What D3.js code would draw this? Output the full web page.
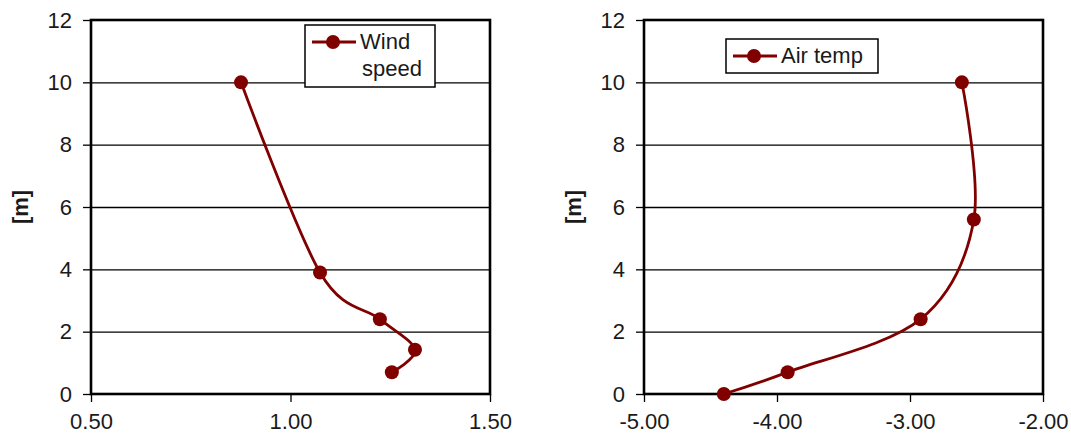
<!DOCTYPE html>
<html>
<head>
<meta charset="utf-8">
<script src="https://cdn.jsdelivr.net/npm/d3@7"></script>
<style>
  body { margin: 0; background: #fff; }
  svg text { font-family: "Liberation Sans", Arial, sans-serif; fill: #1a1a1a; }
</style>
</head>
<body>
<div id="chart"></div>
<script>
// heights [m]
const yTicks = [0, 2, 4, 6, 8, 10, 12];

const windHeights = [10, 3.9, 2.4, 1.42, 0.7];
const windSpeed = [0.876, 1.074, 1.224, 1.312, 1.254];
const windTicks = [0.5, 1.0, 1.5];

const tempHeights = [10, 5.6, 2.4, 0.7, 0];
const airTemp = [-2.61, -2.52, -2.92, -3.92, -4.40];
const tempTicks = [-5, -4, -3, -2];

const lineColor = "#800000";
const fontSize = "22px";

const svg = d3.select("#chart").append("svg")
    .attr("width", 1071)
    .attr("height", 440);

function drawPanel(opts) {
    const x = d3.scaleLinear().domain(opts.xDomain).range([opts.left, opts.right]);
    const y = d3.scaleLinear().domain([0, 12]).range([394, 20]);
    const g = svg.append("g");

    // grid lines
    g.append("g")
        .attr("transform", `translate(${opts.left},0)`)
        .call(d3.axisLeft(y).tickValues(yTicks.slice(1, -1)).tickSize(-(opts.right - opts.left)).tickFormat(""))
        .call(s => s.select(".domain").remove())
        .call(s => s.selectAll("line").attr("stroke", "#000").attr("stroke-width", 1.3));

    // frame
    g.append("rect")
        .attr("x", opts.left).attr("y", y(12))
        .attr("width", opts.right - opts.left).attr("height", y(0) - y(12))
        .attr("fill", "none").attr("stroke", "#000").attr("stroke-width", 2.6);

    // y axis
    const ya = g.append("g")
        .attr("transform", `translate(${opts.left},0)`)
        .call(d3.axisLeft(y).tickValues(yTicks).tickSize(8).tickPadding(11).tickFormat(d3.format("d")));
    ya.select(".domain").remove();
    ya.selectAll("line").attr("stroke", "#000").attr("stroke-width", 1.3);
    ya.selectAll("text").style("font-size", fontSize).attr("fill", "#1a1a1a");

    // x axis
    const xa = g.append("g")
        .attr("transform", `translate(0,${y(0)})`)
        .call(d3.axisBottom(x).tickValues(opts.xTicks).tickSize(8).tickPadding(11).tickFormat(d => d.toFixed(2)));
    xa.select(".domain").remove();
    xa.selectAll("line").attr("stroke", "#000").attr("stroke-width", 1.3);
    xa.selectAll("text").style("font-size", fontSize).attr("fill", "#1a1a1a");

    // axis title
    g.append("text")
        .attr("transform", `translate(${opts.titleX},207) rotate(-90)`)
        .attr("text-anchor", "middle")
        .attr("dominant-baseline", "middle")
        .style("font-size", fontSize)
        .style("font-weight", "bold")
        .text("[m]");

    const pts = opts.xs.map((v, i) => [v, opts.ys[i]]);
    const line = d3.line()
        .x(d => x(d[0]))
        .y(d => y(d[1]))
        .curve(d3.curveCardinal.tension(0));

    g.append("path")
        .attr("d", line(pts))
        .attr("fill", "none")
        .attr("stroke", lineColor)
        .attr("stroke-width", 2.8);

    g.selectAll("circle.pt").data(pts).enter().append("circle")
        .attr("class", "pt")
        .attr("cx", d => x(d[0]))
        .attr("cy", d => y(d[1]))
        .attr("r", 7)
        .attr("fill", lineColor);

    // legend
    const lg = opts.legend;
    g.append("rect")
        .attr("x", lg.x).attr("y", lg.y).attr("width", lg.w).attr("height", lg.h)
        .attr("fill", "#fff").attr("stroke", "#000").attr("stroke-width", 1.5);
    g.append("line")
        .attr("x1", lg.x + 7).attr("x2", lg.x + 51)
        .attr("y1", lg.lineY).attr("y2", lg.lineY)
        .attr("stroke", lineColor).attr("stroke-width", 2.8);
    g.append("circle")
        .attr("cx", lg.x + 28).attr("cy", lg.lineY).attr("r", 7)
        .attr("fill", lineColor);
    lg.labels.forEach((t, i) => {
        g.append("text")
            .attr("x", lg.x + 55 + (i ? 2 : 0))
            .attr("y", lg.lineY + 7 + i * 27)
            .style("font-size", fontSize)
            .text(t);
    });
}

drawPanel({
    left: 91, right: 490,
    xDomain: [0.5, 1.5], xTicks: windTicks,
    xs: windSpeed, ys: windHeights,
    titleX: 22,
    legend: { x: 305, y: 25, w: 130, h: 62, lineY: 42, labels: ["Wind", "speed"] }
});

drawPanel({
    left: 644, right: 1043,
    xDomain: [-5, -2], xTicks: tempTicks,
    xs: airTemp, ys: tempHeights,
    titleX: 575,
    legend: { x: 726, y: 39, w: 152, h: 34, lineY: 56, labels: ["Air temp"] }
});
</script>
</body>
</html>
